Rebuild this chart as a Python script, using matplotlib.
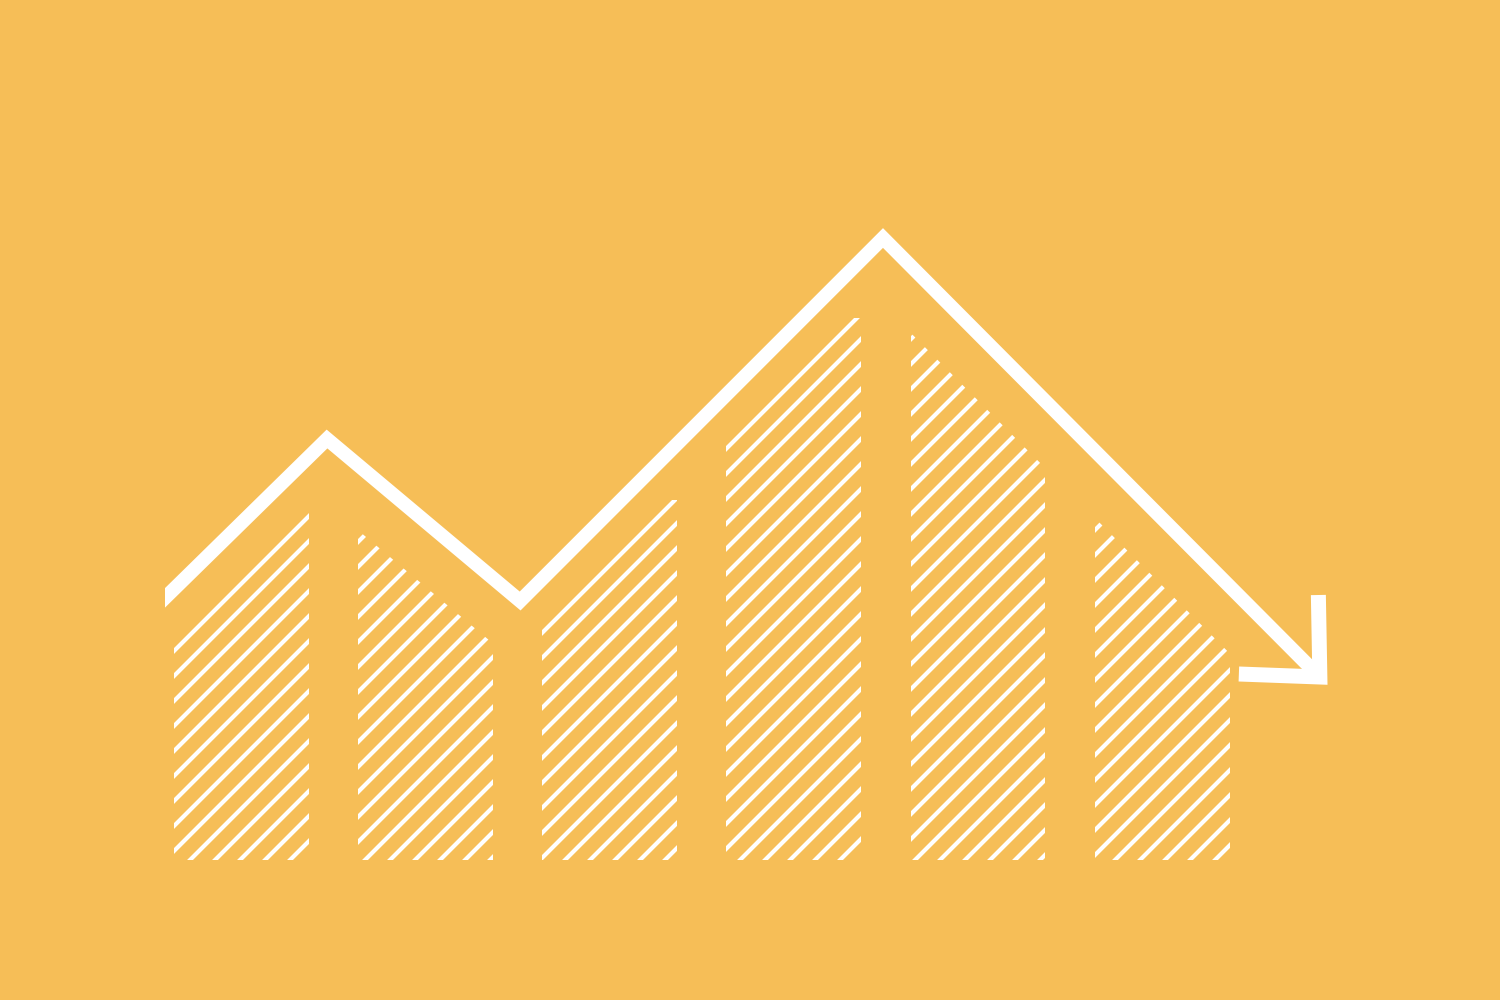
import matplotlib
matplotlib.use("Agg")
import matplotlib.pyplot as plt
import matplotlib.transforms as mtransforms
from matplotlib.patches import Polygon
import numpy as np

# Bar data (visible top of each hatched column)
bar_values = [6.96, 6.6, 7.2, 10.84, 10.6, 6.96]

# Trend line data (x in bar-index units)
line_x = [-0.5, 0.464, 1.513, 3.484, 5.857]
line_y = [4.94, 8.42, 5.18, 12.44, 3.66]

BG = "#F6BE57"
DPI = 150

plt.rcParams["hatch.linewidth"] = 2.0

fig = plt.figure(figsize=(1500 / DPI, 1000 / DPI), dpi=DPI, facecolor=BG)
ax = fig.add_axes([0.11, 0.14, 0.8233, 0.76])
ax.set_facecolor(BG)
ax.set_xlim(-0.416, 6.292)
ax.set_ylim(0, 15.2)
ax.axis("off")

#      --- Hatched Bars ---

x = np.arange(len(bar_values))
bars = ax.bar(x, bar_values, width=0.733, facecolor="none",
              edgecolor="white", linewidth=0, hatch="//")

# clip the columns to the area below the line, shifted down (and a bit left)
gap = mtransforms.ScaledTranslation(-11 / DPI, -56 / DPI, fig.dpi_scale_trans)
clip_xy = list(zip(line_x, line_y)) + [(line_x[-1], -5), (line_x[0], -5)]
clip_poly = Polygon(clip_xy, closed=True, transform=ax.transData + gap,
                    facecolor="none", edgecolor="none")
for b in bars:
    b.set_clip_path(clip_poly)

#      --- Trend Line ---

ax.plot(line_x, line_y, color="white", linewidth=6.7,
        solid_joinstyle="miter", solid_capstyle="butt")

# open arrow head at the end of the line (offsets in inches)
tip = mtransforms.ScaledTranslation(line_x[-1], line_y[-1], ax.transData)
head_x = [-1.5 / DPI, 0, -81 / DPI]
head_y = [82 / DPI, 0, 3 / DPI]
ax.plot(head_x, head_y, color="white", linewidth=7.2,
        solid_joinstyle="miter", solid_capstyle="butt",
        transform=fig.dpi_scale_trans + tip, clip_on=False)

fig.savefig("out.png", dpi=DPI, facecolor=BG)
